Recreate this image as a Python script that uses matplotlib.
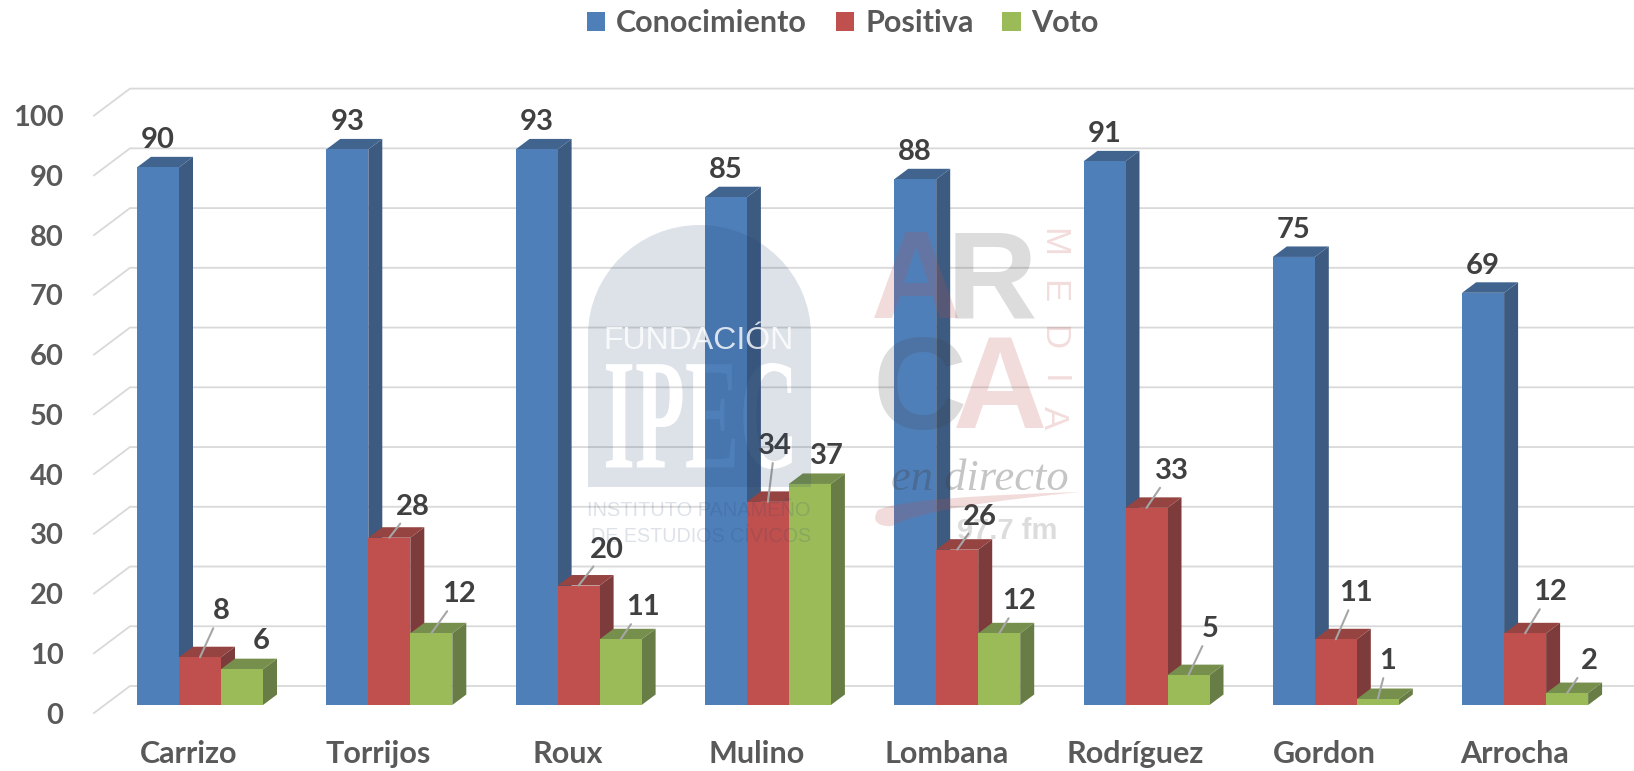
import matplotlib
matplotlib.use("Agg")
import matplotlib.pyplot as plt
from matplotlib.font_manager import FontProperties
from matplotlib.patches import PathPatch, Patch
from matplotlib.path import Path
from matplotlib.textpath import TextPath
from matplotlib.transforms import Affine2D, IdentityTransform, ScaledTranslation

candidates = ["Carrizo", "Torrijos", "Roux", "Mulino", "Lombana", "Rodríguez", "Gordon", "Arrocha"]
conocimiento = [90, 93, 93, 85, 88, 91, 75, 69]
positiva = [8, 28, 20, 34, 26, 33, 11, 12]
voto = [6, 12, 11, 37, 12, 5, 1, 2]
y_ticks = [0, 10, 20, 30, 40, 50, 60, 70, 80, 90, 100]

series_names = ["Conocimiento", "Positiva", "Voto"]
series_values = [conocimiento, positiva, voto]

# front, top, side
colors = [("#4f7fb9", "#41648f", "#3d5a80"),
          ("#c0504d", "#954442", "#7e3b3b"),
          ("#9bbb59", "#778f4c", "#677d45")]

# data label offsets from the top of the front face, pixels (right, up)
label_dx = [[0] * 8,
            [21, 24, 28, 7, 23, 25, 20, 25],
            [19, 28, 22, 17, 20, 22, 10, 22]]
label_up = [[27] * 8,
            [46, 31, 36, 56, 33, 37, 46, 41],
            [28, 39, 32, 28, 32, 46, 38, 32]]
no_leader = [(2, 0), (2, 3)]

W, H = 1634, 771
PX_X = 1 / 189.3
PX_Y = 1 / 5.974
BASE_PX = 705
TOP_PX = 88
LEFT_PX = 94
LABEL_PX = 189

plt.rcParams["font.family"] = ["Lato", "DejaVu Sans"]
plt.rcParams["font.weight"] = "bold"

fig = plt.figure(figsize=(W / 100, H / 100), dpi=100)
ax = fig.add_axes([LEFT_PX / W, (H - BASE_PX) / H, (W - LEFT_PX) / W, (BASE_PX - TOP_PX) / H])
ax.set_xlim((LEFT_PX - LABEL_PX) * PX_X, (W - LABEL_PX) * PX_X)
ax.set_ylim(0, (BASE_PX - TOP_PX) * PX_Y)
for s in ax.spines.values():
    s.set_visible(False)

# back wall lines and the short diagonal part on the left
wall_x = (130 - LABEL_PX) * PX_X
x_min = ax.get_xlim()[0]
x_max = ax.get_xlim()[1]
for v in y_ticks:
    ax.plot([x_min, wall_x, x_max], [v - 8 * PX_Y, v + 19 * PX_Y, v + 19 * PX_Y],
            color="#d9d9d9", lw=1.3, zorder=1, clip_on=False, solid_joinstyle="miter")

bar_w = 42 * PX_X
first = (137 - LABEL_PX) * PX_X
dx = 14 * PX_X
dy = 10.5 * PX_Y

for i in range(len(candidates)):
    for s in range(3):
        v = series_values[s][i]
        left = i + first + s * bar_w
        front, top, side = colors[s]
        z = 3 + s
        ax.fill([left + bar_w, left + bar_w + dx, left + bar_w + dx, left + bar_w],
                [0, dy, v + dy, v], color=side, lw=0, zorder=z)
        ax.fill([left, left + dx, left + bar_w + dx, left + bar_w],
                [v, v + dy, v + dy, v], color=top, lw=0, zorder=z)
        ax.bar(left, v, bar_w, align="edge", color=front, lw=0, zorder=z)

for s in range(3):
    for i in range(len(candidates)):
        v = series_values[s][i]
        xc = i + first + (s + 0.5) * bar_w
        props = None
        if s > 0 and (s, i) not in no_leader:
            props = dict(arrowstyle="-", color="#a6a6a6", lw=1.5, shrinkA=1, shrinkB=0)
        ax.annotate(str(v), xy=(xc, v), xytext=(label_dx[s][i], label_up[s][i]),
                    textcoords="offset pixels", ha="center", va="center",
                    fontsize=21, color="#404040", arrowprops=props, zorder=10)

ax.set_yticks(y_ticks)
ax.set_xticks(range(len(candidates)))
ax.set_xticklabels(candidates)
ax.tick_params(axis="y", length=0, pad=22, labelsize=21, labelcolor="#595959")
ax.tick_params(axis="x", length=0, pad=25.5, labelsize=22, labelcolor="#595959")
shift = ScaledTranslation(0, -8 / 100, fig.dpi_scale_trans)
for lab in ax.get_yticklabels():
    lab.set_transform(lab.get_transform() + shift)

handles = [Patch(color=colors[s][0], lw=0) for s in range(3)]
fig.legend(handles, series_names, loc="center", bbox_to_anchor=(843 / W, 1 - 23 / H), ncol=3,
           frameon=False, fontsize=22, labelcolor="#595959", handlelength=0.6, handleheight=0.6,
           handletextpad=0.35, columnspacing=0.95, borderpad=0)


# watermarks, positions given in image pixels
def fit_text(text, family, x0, x1, y0, y1):
    tp = TextPath((0, 0), text, size=100, prop=FontProperties(family=family, weight="bold"))
    box = tp.get_extents()
    tr = (Affine2D().translate(-box.x0, -box.y0)
          .scale((x1 - x0) / box.width, (y1 - y0) / box.height)
          .translate(x0, H - y1))
    return tr.transform_path(Path(tp.vertices, tp.codes))


ax0, ax1, ay0, ay1, spring = 588, 811, H - 487, H - 225, H - 335
mid = (ax0 + ax1) / 2
k = 0.55
arch = Path([(ax0, ay0), (ax1, ay0), (ax1, spring),
             (ax1, spring + k * (ay1 - spring)), (mid + k * (ax1 - mid), ay1), (mid, ay1),
             (mid - k * (ax1 - mid), ay1), (ax0, spring + k * (ay1 - spring)), (ax0, spring),
             (ax0, ay0)],
            [Path.MOVETO, Path.LINETO, Path.LINETO,
             Path.CURVE4, Path.CURVE4, Path.CURVE4,
             Path.CURVE4, Path.CURVE4, Path.CURVE4,
             Path.CLOSEPOLY])
ipec = fit_text("IPEC", "Liberation Serif", 606, 792, 363, 469)
fig.add_artist(PathPatch(Path.make_compound_path(arch, ipec), facecolor="#1f3f70", alpha=0.15, lw=0,
                         transform=IdentityTransform()))


def mark(x, y, text, va="center", **kw):
    fig.text(x / W, 1 - y / H, text, ha="center", va=va, **kw)


mark(698, 341, "FUNDACIÓN", color="white", alpha=0.8, fontsize=23,
     family="Liberation Sans", weight="normal")
mark(699, 510, "INSTITUTO PANAMEÑO", color="#1f3f70", alpha=0.15, fontsize=14.4,
     family="Liberation Sans", weight="normal")
mark(701, 536, "DE ESTUDIOS CÍVICOS", color="#1f3f70", alpha=0.15, fontsize=14.2,
     family="Liberation Sans", weight="normal")

narrow = ["Liberation Sans Narrow", "Liberation Sans"]
pink = dict(color="#c0504d", alpha=0.2)
gray = dict(color="#404040", alpha=0.18)
mark(916, 318, "A", va="baseline", fontsize=90, family=narrow, **pink)
mark(992, 318, "R", va="baseline", fontsize=90, family=narrow, **gray)
mark(920, 429, "C", va="baseline", fontsize=94, family=narrow, **gray)
mark(1000, 428, "A", va="baseline", fontsize=94, family=narrow, **pink)
for letter, y in zip("MEDIA", [242, 292, 338, 380, 418]):
    mark(1053, y, letter, fontsize=25, rotation=-90, family="Liberation Sans", weight="normal", **pink)
mark(980, 479, "en directo", fontsize=32, family="Liberation Serif", style="italic", weight="normal",
     color="#404040", alpha=0.3)
mark(1007, 531, "97.7 fm", fontsize=21, family="Liberation Sans", **gray)

swoosh = Path([(1080, H - 492), (980, H - 495), (900, H - 500), (878, H - 510),
               (870, H - 522), (880, H - 527), (892, H - 526),
               (920, H - 510), (1000, H - 500), (1080, H - 492)],
              [Path.MOVETO, Path.CURVE4, Path.CURVE4, Path.CURVE4,
               Path.CURVE4, Path.CURVE4, Path.CURVE4,
               Path.CURVE4, Path.CURVE4, Path.CURVE4])
fig.add_artist(PathPatch(swoosh, facecolor="#c0504d", alpha=0.2, lw=0, transform=IdentityTransform()))

fig.savefig("out.png", dpi=100)
